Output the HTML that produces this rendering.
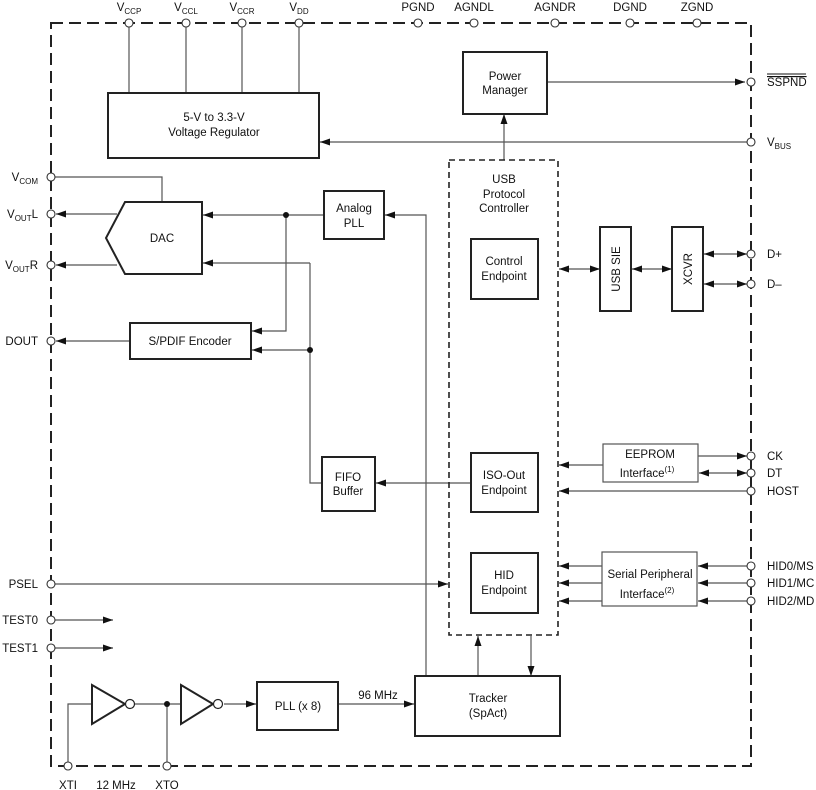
<!DOCTYPE html>
<html><head><meta charset="utf-8"><style>
html,body{margin:0;padding:0;background:#fff}
svg{display:block}
text{font-family:"Liberation Sans",Arial,sans-serif;font-size:11.5px;fill:#111}
.s{font-size:8px}
</style></head><body>
<svg width="816" height="790" viewBox="0 0 816 790" xmlns="http://www.w3.org/2000/svg">
<defs>
<marker id="a" markerWidth="10" markerHeight="8" refX="10" refY="4" orient="auto-start-reverse" markerUnits="userSpaceOnUse">
<path d="M0,0.5 L10,4 L0,7.5 z" fill="#111"/></marker>
</defs>
<g fill="none" stroke="#555" stroke-width="1.2">
<!-- top pins to regulator -->
<path d="M129,23V93M186,23V93M242,23V93M299,23V93"/>
<!-- VBUS -->
<path d="M751,142H320" marker-end="url(#a)"/>
<path d="M504,160V114" marker-end="url(#a)"/>
<path d="M547,82H745" marker-end="url(#a)"/>
<!-- VCOM -->
<path d="M55,177H162V202"/>
<path d="M117,214H56" marker-end="url(#a)"/>
<path d="M117,265H56" marker-end="url(#a)"/>
<path d="M324,215H203" marker-end="url(#a)"/>
<path d="M286,215V331H252" marker-end="url(#a)"/>
<path d="M426,676V215H385" marker-end="url(#a)"/>
<path d="M310,263H203" marker-end="url(#a)"/>
<path d="M310,263V483H322"/>
<path d="M310,350H252" marker-end="url(#a)"/>
<path d="M130,341H56" marker-end="url(#a)"/>
<path d="M470,483H376" marker-end="url(#a)"/>
<!-- USB side -->
<path d="M559,269H600" marker-start="url(#a)" marker-end="url(#a)"/>
<path d="M632,269H672" marker-start="url(#a)" marker-end="url(#a)"/>
<path d="M704,254H747" marker-start="url(#a)" marker-end="url(#a)"/>
<path d="M704,284H747" marker-start="url(#a)" marker-end="url(#a)"/>
<path d="M603,465H559" marker-end="url(#a)"/>
<path d="M698,456H747" marker-end="url(#a)"/>
<path d="M699,473H747" marker-start="url(#a)" marker-end="url(#a)"/>
<path d="M747,491H559" marker-end="url(#a)"/>
<path d="M602,566H559" marker-end="url(#a)"/>
<path d="M602,583H559" marker-end="url(#a)"/>
<path d="M602,601H559" marker-end="url(#a)"/>
<path d="M747,566H698" marker-end="url(#a)"/>
<path d="M747,583H698" marker-end="url(#a)"/>
<path d="M747,601H698" marker-end="url(#a)"/>
<path d="M55,584H448" marker-end="url(#a)"/>
<path d="M55,620H113" marker-end="url(#a)"/>
<path d="M55,648H113" marker-end="url(#a)"/>
<path d="M478,676V636" marker-end="url(#a)"/>
<path d="M531,636V676" marker-end="url(#a)"/>
<!-- clock -->
<path d="M68,762V704H92"/>
<path d="M135,704H181"/>
<path d="M167,704V762"/>
<path d="M224,704H256" marker-end="url(#a)"/>
<path d="M338,704H414" marker-end="url(#a)"/>
</g>
<!-- dashed borders -->
<rect x="51" y="23" width="700" height="743" fill="none" stroke="#222" stroke-width="2" stroke-dasharray="12,6"/>
<rect x="449" y="160" width="109" height="475" fill="none" stroke="#222" stroke-width="1.6" stroke-dasharray="6,4"/>
<!-- boxes -->
<g fill="#fff" stroke="#222" stroke-width="2">
<rect x="108" y="93" width="211" height="65"/>
<rect x="463" y="52" width="84" height="62"/>
<path d="M125,202H202V274H125L106,238Z"/>
<rect x="324" y="191" width="60" height="48"/>
<rect x="130" y="323" width="121" height="36"/>
<rect x="322" y="457" width="53" height="54"/>
<rect x="471" y="239" width="67" height="60"/>
<rect x="471" y="453" width="67" height="59"/>
<rect x="471" y="553" width="67" height="60"/>
<rect x="600" y="227" width="31" height="84"/>
<rect x="672" y="227" width="31" height="84"/>
<rect x="257" y="682" width="81" height="48"/>
<rect x="415" y="676" width="145" height="60"/>
<path d="M92,685L125,704L92,724Z"/>
<path d="M181,685L213,704L181,724Z"/>
</g>
<g fill="#fff" stroke="#555" stroke-width="1.2">
<rect x="603" y="444" width="95" height="38"/>
<rect x="602" y="552" width="95" height="54"/>
<circle cx="130" cy="704" r="4.5" stroke="#222"/>
<circle cx="218" cy="704" r="4.5" stroke="#222"/>
</g>
<g fill="#111"><circle cx="286" cy="215" r="3"/><circle cx="310" cy="350" r="3"/><circle cx="167" cy="704" r="3"/></g>
<!-- pins -->
<g fill="#fff" stroke="#333" stroke-width="1.1">
<circle cx="129" cy="23" r="4"/><circle cx="186" cy="23" r="4"/><circle cx="242" cy="23" r="4"/><circle cx="299" cy="23" r="4"/>
<circle cx="418" cy="23" r="4"/><circle cx="474" cy="23" r="4"/><circle cx="555" cy="23" r="4"/><circle cx="630" cy="23" r="4"/><circle cx="697" cy="23" r="4"/>
<circle cx="51" cy="177" r="4"/><circle cx="51" cy="214" r="4"/><circle cx="51" cy="265" r="4"/><circle cx="51" cy="341" r="4"/>
<circle cx="51" cy="584" r="4"/><circle cx="51" cy="620" r="4"/><circle cx="51" cy="648" r="4"/>
<circle cx="68" cy="766" r="4"/><circle cx="167" cy="766" r="4"/>
<circle cx="751" cy="82" r="4"/><circle cx="751" cy="142" r="4"/><circle cx="751" cy="254" r="4"/><circle cx="751" cy="284" r="4"/>
<circle cx="751" cy="456" r="4"/><circle cx="751" cy="473" r="4"/><circle cx="751" cy="491" r="4"/>
<circle cx="751" cy="566" r="4"/><circle cx="751" cy="583" r="4"/><circle cx="751" cy="601" r="4"/>
</g>
<!-- labels -->
<g text-anchor="middle">
<text x="129" y="11">V<tspan class="s" dy="3">CCP</tspan></text>
<text x="186" y="11">V<tspan class="s" dy="3">CCL</tspan></text>
<text x="242" y="11">V<tspan class="s" dy="3">CCR</tspan></text>
<text x="299" y="11">V<tspan class="s" dy="3">DD</tspan></text>
<text x="418" y="11">PGND</text><text x="474" y="11">AGNDL</text><text x="555" y="11">AGNDR</text><text x="630" y="11">DGND</text><text x="697" y="11">ZGND</text>
<text x="214" y="121">5-V to 3.3-V</text><text x="214" y="136">Voltage Regulator</text>
<text x="505" y="80">Power</text><text x="505" y="94">Manager</text>
<text x="162" y="242">DAC</text>
<text x="354" y="212">Analog</text><text x="354" y="227">PLL</text>
<text x="190" y="345">S/PDIF Encoder</text>
<text x="348" y="481">FIFO</text><text x="348" y="495">Buffer</text>
<text x="504" y="183">USB</text><text x="504" y="198">Protocol</text><text x="504" y="212">Controller</text>
<text x="504" y="265">Control</text><text x="504" y="280">Endpoint</text>
<text x="504" y="479">ISO-Out</text><text x="504" y="494">Endpoint</text>
<text x="504" y="579">HID</text><text x="504" y="594">Endpoint</text>
<text x="650" y="458">EEPROM</text><text x="647" y="477">Interface<tspan class="s" dy="-5">(1)</tspan></text>
<text x="650" y="578">Serial Peripheral</text><text x="647" y="598">Interface<tspan class="s" dy="-5">(2)</tspan></text>
<text x="298" y="710">PLL (x 8)</text>
<text x="378" y="699">96 MHz</text>
<text x="488" y="702">Tracker</text><text x="488" y="717">(SpAct)</text>
<text x="68" y="789">XTI</text><text x="116" y="789">12 MHz</text><text x="167" y="789">XTO</text>
</g>
<text transform="translate(620,269) rotate(-90)" text-anchor="middle">USB SIE</text>
<text transform="translate(692,269) rotate(-90)" text-anchor="middle">XCVR</text>
<g text-anchor="end">
<text x="38" y="181">V<tspan class="s" dy="3">COM</tspan></text>
<text x="38" y="218">V<tspan class="s" dy="3">OUT</tspan><tspan dy="-3">L</tspan></text>
<text x="38" y="269">V<tspan class="s" dy="3">OUT</tspan><tspan dy="-3">R</tspan></text>
<text x="38" y="345">DOUT</text>
<text x="38" y="588">PSEL</text>
<text x="38" y="624">TEST0</text>
<text x="38" y="652">TEST1</text>
</g>
<text x="767" y="86" text-decoration="overline">SSPND</text>
<line x1="767" y1="74" x2="806" y2="74" stroke="#111" stroke-width="1"/>
<text x="767" y="146">V<tspan class="s" dy="3">BUS</tspan></text>
<text x="767" y="258">D+</text><text x="767" y="288">D–</text>
<text x="767" y="460">CK</text><text x="767" y="477">DT</text><text x="767" y="495">HOST</text>
<text x="767" y="570">HID0/MS</text><text x="767" y="587">HID1/MC</text><text x="767" y="605">HID2/MD</text>
</svg>
</body></html>
